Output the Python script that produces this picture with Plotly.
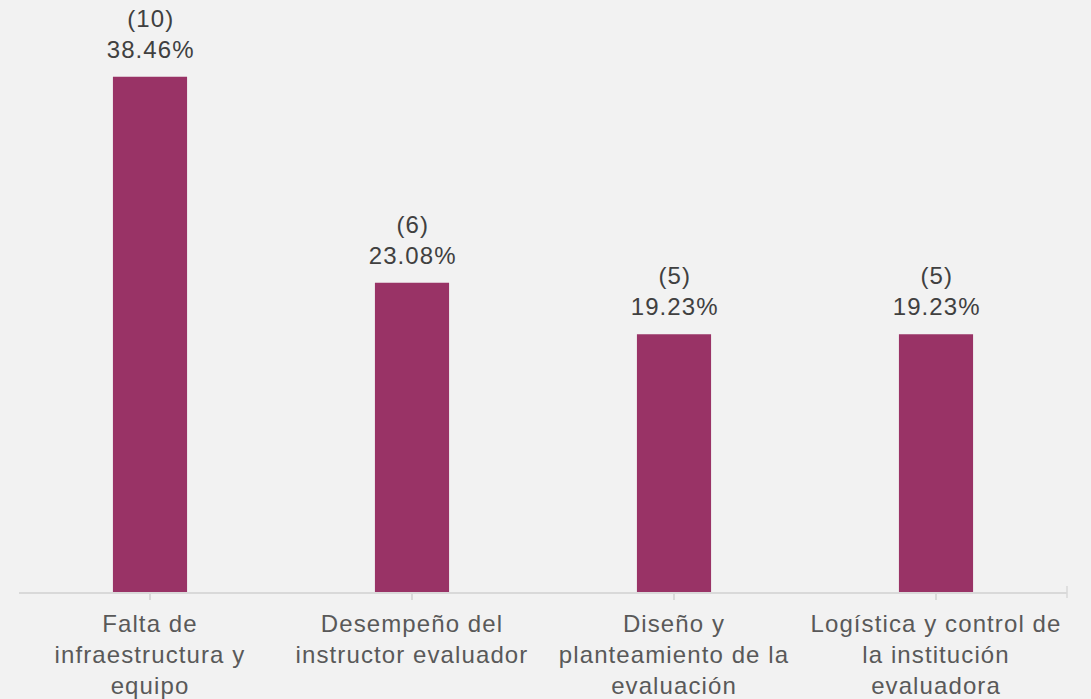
import plotly.graph_objects as go

categories = [
    "Falta de<br>infraestructura y<br>equipo",
    "Desempeño del<br>instructor evaluador",
    "Diseño y<br>planteamiento de la<br>evaluación",
    "Logística y control de<br>la institución<br>evaluadora",
]
counts = [10, 6, 5, 5]
percents = [38.46, 23.08, 19.23, 19.23]

labels = [f"({c})<br>{p:.2f}%" for c, p in zip(counts, percents)]

FONT = "Liberation Sans, Arial, sans-serif"

fig = go.Figure(
    go.Bar(
        x=categories,
        y=percents,
        cliponaxis=False,
        marker=dict(color="#993366", line=dict(width=0)),
        hoverinfo="skip",
    )
)

for cat, val, lab in zip(categories, percents, labels):
    fig.add_annotation(
        x=cat,
        y=val,
        text=lab,
        showarrow=False,
        yanchor="bottom",
        yshift=12,
        font=dict(family=FONT, size=24, color="#404040"),
    )

fig.update_layout(
    width=1091,
    height=699,
    margin=dict(l=19, r=24, t=56, b=107, autoexpand=False),
    paper_bgcolor="#f2f2f2",
    plot_bgcolor="#f2f2f2",
    bargap=0.717,
    showlegend=False,
    font=dict(family=FONT, size=24, color="#595959"),
    xaxis=dict(
        showline=True,
        linecolor="#d9d9d9",
        linewidth=1.5,
        ticks="outside",
        ticklen=6,
        tickwidth=1.5,
        tickcolor="#d9d9d9",
        tickfont=dict(size=24, color="#595959"),
        ticklabelstandoff=3,
        automargin=False,
        showgrid=False,
        zeroline=False,
    ),
    yaxis=dict(
        range=[0, 40],
        visible=False,
        automargin=False,
        showgrid=False,
        zeroline=False,
    ),
    shapes=[
        dict(
            type="line",
            xref="paper",
            yref="paper",
            x0=1,
            x1=1,
            y0=-0.011,
            y1=0.011,
            line=dict(color="#d9d9d9", width=1.5),
        )
    ],
)

fig.write_html(
    "out.html",
    config={"displayModeBar": False},
    post_script=(
        "document.body.style.margin='0';"
        "document.body.style.background='#f2f2f2';"
        "document.querySelectorAll('.main-svg text').forEach(function(t){t.style.letterSpacing='1.1px';});"
    ),
)
